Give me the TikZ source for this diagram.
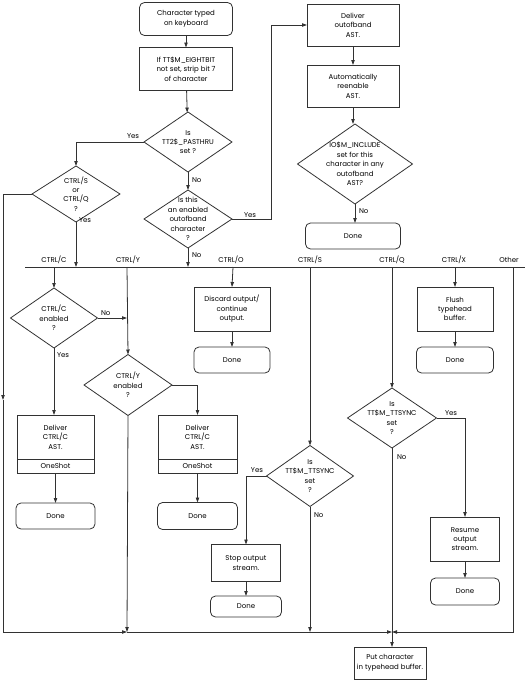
\documentclass[tikz,border=0pt]{standalone}
\usepackage{fontspec}
\setmainfont{Poppins}
\usetikzlibrary{shapes.geometric,arrows.meta}
\definecolor{c323232}{RGB}{50,50,50}

\begin{document}
\begin{tikzpicture}[y=1pt, x=1pt, yscale=-1, inner sep=0pt, outer sep=0pt,
  every node/.style={font=\fontsize{7}{9.4}\selectfont, align=center},
  wire/.style={draw=c323232, line width=0.8pt},
  flow/.style={wire, -{Triangle[length=5pt,width=3.4pt]}},
  procbox/.style 2 args={wire, minimum width=#1, minimum height=#2},
  donebox/.style 2 args={wire, rounded corners=5pt, minimum width=#1, minimum height=#2},
  decision/.style 2 args={wire, diamond, minimum width=#1, minimum height=#2}]
\useasboundingbox (0,0) rectangle (527,680);
  % entry column
  \path (186,19) node[donebox={93}{33}] (start) {Character typed\\on keyboard};
  \path (186,69) node[procbox={93}{43}] (strip) {If TT\$M\_EIGHTBIT\\not set, strip bit 7\\of character};
  \path (188,142) node[decision={88}{60}, label={center:Is\\TT2\$\_PASTHRU\\set ?}] (pasthru) {};
  \path (188,219) node[decision={88}{58}, label={center:Is this\\an enabled\\outofband\\character\\?}] (outofband) {};
  \path (76,194) node[decision={88}{56}, label={center:CTRL/S\\or\\CTRL/Q\\?}] (ctrlsq) {};
  \draw[flow] (start) -- (strip);
  \draw[flow] (strip) -- (pasthru);
  \draw[flow] (pasthru.west) -| (ctrlsq.north);
  \path (127,138) node[anchor=base west] (text_yes1) {Yes};
  \draw[flow] (pasthru.south) -- (outofband.north);
  \path (192,182) node[anchor=base west] (text_no1) {No};
  % outofband column
  \path (353,25) node[procbox={92}{42}] (deliverob) {Deliver\\outofband\\AST.};
  \path (353,86) node[procbox={92}{42}] (reenable) {Automatically\\reenable\\AST.};
  \path (355,164) node[decision={115}{80}, label={center:IO\$M\_INCLUDE\\set for this\\character in any\\outofband\\AST?}] (include) {};
  \path (353,236) node[donebox={95}{26}] (doneob) {Done};
  \coordinate (bendob) at (271,219);
  \draw[flow] (outofband.east) -- (bendob) |- (deliverob.west);
  \path (244,217) node[anchor=base west] (text_yes2) {Yes};
  \draw[flow] (deliverob) -- (reenable);
  \draw[flow] (reenable.south) -- (reenable.south |- include.north);
  \draw[flow] (include.south) -- (include.south |- doneob.north);
  \path (359,213) node[anchor=base west] (text_no2) {No};
  % character bus
  \coordinate (busl) at (25,267);
  \coordinate (busr) at (525,267);
  \coordinate (busc) at (54,267);
  \coordinate (busy) at (127,267);
  \coordinate (buso) at (233,267);
  \coordinate (buss) at (310,267);
  \coordinate (busq) at (392,267);
  \coordinate (busx) at (455,267);
  \coordinate (busother) at (513,267);
  \draw[wire] (busl) -- (busr);
  \draw[flow] (ctrlsq.south) -- (ctrlsq.south |- busl);
  \path (79,222) node[anchor=base west] (text_yes3) {Yes};
  \draw[flow] (outofband.south) -- (outofband.south |- busl);
  \path (192,257) node[anchor=base west] (text_no3) {No};
  \path (54,262) node[anchor=base] (text_ctrlc) {CTRL/C};
  \path (128,262) node[anchor=base] (text_ctrly) {CTRL/Y};
  \path (231,262) node[anchor=base] (text_ctrlo) {CTRL/O};
  \path (310,262) node[anchor=base] (text_ctrls) {CTRL/S};
  \path (392,262) node[anchor=base] (text_ctrlq) {CTRL/Q};
  \path (454,262) node[anchor=base] (text_ctrlx) {CTRL/X};
  \path (509,262) node[anchor=base] (text_other) {Other};
  % CTRL/C and CTRL/Y
  \path (54,318) node[decision={87}{60}, label={center:CTRL/C\\enabled\\?}] (ctrlc) {};
  \path (128,385) node[decision={88}{61}, label={center:CTRL/Y\\enabled\\?}] (ctrly) {};
  \path (55.5,437) node[procbox={77}{44}] (deliverc) {Deliver\\CTRL/C\\AST.};
  \path (55.5,466) node[procbox={77}{14}] (oneshotc) {OneShot};
  \path (55.5,516) node[donebox={79}{26}] (donec) {Done};
  \path (197.5,437) node[procbox={79}{44}] (delivery) {Deliver\\CTRL/C\\AST.};
  \path (197.5,466) node[procbox={79}{14}] (oneshoty) {OneShot};
  \path (197.5,516) node[donebox={80}{27}] (doney) {Done};
  \draw[flow] (busc) -- (ctrlc.north);
  \draw[flow] (ctrlc.east) -- (ctrlc.east -| busy);
  \path (101,315) node[anchor=base west] (text_no4) {No};
  \draw[flow] (busy) -- (ctrly.north);
  \draw[flow] (ctrlc.south) -- (ctrlc.south |- deliverc.north);
  \path (57,357) node[anchor=base west] (text_yes4) {Yes};
  \draw[flow] (oneshotc) -- (donec);
  \draw[flow] (ctrly.east) -| (delivery.north);
  \draw[flow] (oneshoty) -- (doney);
  % CTRL/O and CTRL/X
  \path (232,309) node[procbox={76}{44}] (discard) {Discard output/\\continue\\output.};
  \path (232,360) node[donebox={76}{26}] (doneo) {Done};
  \draw[flow] (buso) -- (discard.north);
  \draw[flow] (discard) -- (doneo);
  \path (455,309) node[procbox={76}{44}] (flush) {Flush\\typehead\\buffer.};
  \path (455,360) node[donebox={77}{26}] (donex) {Done};
  \draw[flow] (busx) -- (flush.north);
  \draw[flow] (flush) -- (donex);
  % CTRL/S
  \path (310,476) node[decision={87}{61}, label={center:Is\\TT\$M\_TTSYNC\\set\\?}] (ttsyncs) {};
  \path (246,563) node[procbox={69}{37}] (stopout) {Stop output\\stream.};
  \path (246,606.5) node[donebox={71}{21}] (dones) {Done};
  \draw[flow] (buss) -- (ttsyncs.north);
  \draw[flow] (ttsyncs.west) -| (stopout.north);
  \path (263,472) node[anchor=base east] (text_yes5) {Yes};
  \draw[flow] (stopout) -- (dones);
  \path (314,517) node[anchor=base west] (text_no5) {No};
  % CTRL/Q
  \path (392,418) node[decision={89}{60}, label={center:Is\\TT\$M\_TTSYNC\\set\\?}] (ttsyncq) {};
  \path (465,539) node[procbox={69}{44}] (resume) {Resume\\output\\stream.};
  \path (465,591.5) node[donebox={69}{27}] (doneq) {Done};
  \draw[flow] (busq) -- (ttsyncq.north);
  \draw[flow] (ttsyncq.east) -| (resume.north);
  \path (445,415) node[anchor=base west] (text_yes6) {Yes};
  \draw[flow] (resume) -- (doneq);
  \path (397,459) node[anchor=base west] (text_no6) {No};
  % merge into the typehead buffer
  \path (390,663) node[procbox={72}{32}] (putbuf) {Put character\\in typehead buffer.};
  \coordinate (midl) at (3,400);
  \coordinate (cornerl) at (3,632);
  \coordinate (joiny) at (127,632);
  \coordinate (joins) at (310,632);
  \coordinate (joinq) at (392,632);
  \coordinate (cornerr) at (513,632);
  \draw[flow] (ctrlsq.west) -| (midl);
  \draw[flow] (midl) -- (cornerl) -- (joiny);
  \draw[flow] (ctrly.south) -- (joiny);
  \draw[flow] (ttsyncs.south) -- (joins);
  \draw[wire] (ttsyncq.south) -- (joinq);
  \draw[flow] (joiny) -- (joinq);
  \draw[flow] (busother) -- (cornerr) -- (joinq);
  \draw[flow] (joinq) -- (joinq |- putbuf.north);
\end{tikzpicture}
\end{document}
